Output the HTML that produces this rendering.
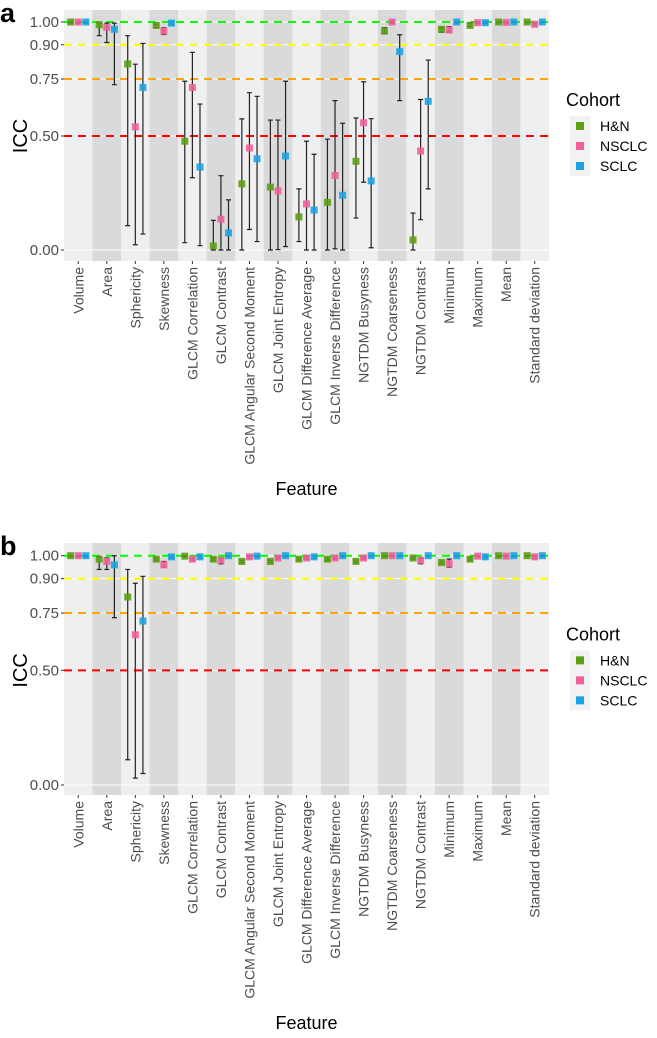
<!DOCTYPE html>
<html><head><meta charset="utf-8"><style>
body{margin:0;background:#fff;width:657px;height:1033px;overflow:hidden}
svg text{font-family:"Liberation Sans",sans-serif}
</style></head><body>
<svg id="chart" width="657" height="1033" xmlns="http://www.w3.org/2000/svg"></svg>
<script>
const categories=["Volume","Area","Sphericity","Skewness","GLCM Correlation","GLCM Contrast","GLCM Angular Second Moment","GLCM Joint Entropy","GLCM Difference Average","GLCM Inverse Difference","NGTDM Busyness","NGTDM Coarseness","NGTDM Contrast","Minimum","Maximum","Mean","Standard deviation"];
const cohorts=["H&N","NSCLC","SCLC"];
const yTicks=[0,0.5,0.75,0.9,1];
const yTickLabels=["0.00","0.50","0.75","0.90","1.00"];
const thresholds=[1,0.9,0.75,0.5];
// panel a
const aHN=[1,0.988,0.816,0.985,0.477,0.018,0.29,0.276,0.145,0.209,0.389,0.96,0.044,0.968,0.985,1,1];
const aHNlo=[0.995,0.94,0.107,0.975,0.032,0,0,0,0.037,0,0.14,0.95,0,0.955,0.98,0.997,0.997];
const aHNhi=[1,0.995,0.94,0.99,0.74,0.13,0.575,0.57,0.268,0.486,0.579,0.975,0.162,0.975,0.995,1,1];
const aNS=[1,0.977,0.54,0.96,0.713,0.135,0.447,0.259,0.202,0.327,0.558,1,0.434,0.965,0.997,0.998,0.99];
const aNSlo=[0.995,0.91,0.023,0.945,0.317,0,0.09,0.002,0,0.005,0.297,0.995,0.133,0.955,0.993,0.995,0.985];
const aNShi=[1,0.995,0.815,0.975,0.867,0.326,0.69,0.57,0.477,0.655,0.738,1,0.66,0.98,1,1,0.995];
const aSC=[1,0.968,0.713,0.995,0.364,0.075,0.40,0.412,0.175,0.24,0.303,0.87,0.652,1,0.997,1,1];
const aSClo=[0.995,0.725,0.07,0.99,0.019,0,0.037,0.015,0,0,0.01,0.655,0.268,0.995,0.993,0.997,0.997];
const aSChi=[1,0.995,0.906,1,0.64,0.22,0.674,0.74,0.42,0.556,0.576,0.944,0.833,1,1,1,1];
// panel b
const bHN=[1,0.985,0.82,0.985,0.998,0.985,0.975,0.975,0.985,0.985,0.975,1,0.99,0.97,0.985,1,1];
const bHNlo=[0.995,0.94,0.11,0.98,0.995,0.98,0.97,0.97,0.98,0.98,0.97,0.997,0.985,0.965,0.98,0.997,0.997];
const bHNhi=[1,0.995,0.94,0.99,1,0.99,0.98,0.98,0.99,0.99,0.98,1,0.995,0.975,0.99,1,1];
const bNS=[1,0.975,0.655,0.96,0.985,0.98,0.995,0.99,0.99,0.99,0.99,1,0.98,0.965,0.998,0.998,0.995];
const bNSlo=[0.995,0.94,0.03,0.95,0.98,0.965,0.99,0.985,0.985,0.985,0.985,0.997,0.965,0.95,0.995,0.995,0.99];
const bNShi=[1,0.99,0.88,0.975,0.99,0.99,1,0.995,0.995,0.995,0.995,1,0.99,0.985,1,1,1];
const bSC=[1,0.96,0.715,0.995,0.995,1,0.998,1,0.995,1,1,1,1,1,0.995,1,1];
const bSClo=[0.995,0.73,0.05,0.99,0.99,0.997,0.995,0.997,0.99,0.997,0.997,0.997,0.997,0.997,0.99,0.997,0.997];
const bSChi=[1,1,0.91,1,1,1,1,1,1,1,1,1,1,1,1,1,1];

const NS="http://www.w3.org/2000/svg";
const svg=document.getElementById('chart');
const colors=["#5c9e14","#f0609a","#1ba3e3"];
const thrColors=["#00ff00","#ffff00","#ffa500","#ff0000"];
function mk(tag,attrs,parent){const e=document.createElementNS(NS,tag);for(const k in attrs)e.setAttribute(k,attrs[k]);(parent||svg).appendChild(e);return e;}

function panel(letter,top,y1,y0,bottom,series){
  const g=mk('g',{});
  
  
  const L=64,R=549,bw=(R-L)/categories.length;
  const y=v=>y0-(y0-y1)*v;
  const x=i=>L+bw*(i+0.5);
  const lt=mk('text',{x:0,y:top+22,'font-size':27,'font-weight':'bold',fill:'#000'},g);lt.textContent=letter;
  
  
  const bg=mk('rect',{x:L,y:top+10,width:R-L,height:bottom-top-10,fill:'#efefef'},g);
  
  
  categories.forEach((c,i)=>{if(i%2==1){const r=mk('rect',{x:L+bw*i,y:top+10,width:bw,height:bottom-top-10,fill:'#dadada'},g);
    
    }});
  yTicks.forEach((t,i)=>{
    mk('line',{x1:L,x2:R,y1:y(t),y2:y(t),stroke:'#fff','stroke-width':1},g);
    mk('line',{x1:L-3,x2:L,y1:y(t),y2:y(t),stroke:'#333'},g);
    const tx=mk('text',{x:L-5,y:y(t)+5,'text-anchor':'end','font-size':15,fill:'#4d4d4d'},g);tx.textContent=yTickLabels[i];
    
    
  });
  thresholds.forEach((t,i)=>{const l=mk('line',{x1:L,x2:R,y1:y(t),y2:y(t),stroke:thrColors[i],'stroke-width':2,'stroke-dasharray':'8,6'},g);
    
    });
  series.forEach((s,k)=>{
    const off=(k-1)*7.6;
    s[0].forEach((v,i)=>{
      const cx=x(i)+off;
      const eb=mk('path',{d:`M${cx},${y(s[1][i])}V${y(s[2][i])}M${cx-2.5},${y(s[1][i])}H${cx+2.5}M${cx-2.5},${y(s[2][i])}H${cx+2.5}`,stroke:'#222','stroke-width':1.2,fill:'none'},g);
      
      
      const p=mk('rect',{x:cx-3.5,y:y(v)-3.5,width:7,height:7,fill:colors[k],opacity:0.9},g);
      
      
    });
  });
  categories.forEach((c,i)=>{
    mk('line',{x1:x(i),x2:x(i),y1:bottom,y2:bottom+3,stroke:'#333'},g);
    const t=mk('text',{transform:`translate(${x(i)+5},${bottom+6}) rotate(-90)`,'text-anchor':'end','font-size':14,fill:'#4d4d4d'},g);
    t.textContent=c;
    
    
  });
  const yt=mk('text',{transform:`translate(27,${y(0.5)}) rotate(-90)`,'text-anchor':'middle','font-size':20,fill:'#000'},g);yt.textContent='ICC';
  
  
  const xt=mk('text',{x:(L+R)/2,y:bottom+234,'text-anchor':'middle','font-size':18,fill:'#000'},g);xt.textContent='Feature';
  
  
  const lg=mk('g',{},g);
  
  
  const lt2=mk('text',{x:566,y:y(0.5)-30,'font-size':18,fill:'#000'},lg);lt2.textContent='Cohort';
  cohorts.forEach((c,k)=>{
    const ky=y(0.5)-20+k*20;
    mk('rect',{x:570,y:ky,width:20,height:20,fill:'#f2f2f2'},lg);
    const kr=mk('rect',{x:576,y:ky+6,width:8,height:8,fill:colors[k]},lg);
    
    
    const kt=mk('text',{x:600,y:ky+15,'font-size':14,fill:'#000'},lg);kt.textContent=c;
    
    
  });
}
panel('a',0,22,250,261,[[aHN,aHNlo,aHNhi],[aNS,aNSlo,aNShi],[aSC,aSClo,aSChi]]);
panel('b',533,555.7,785,795,[[bHN,bHNlo,bHNhi],[bNS,bNSlo,bNShi],[bSC,bSClo,bSChi]]);
</script>
</body></html>
